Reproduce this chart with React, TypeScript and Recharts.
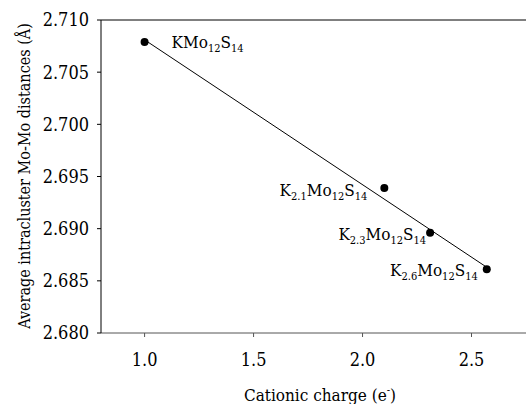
import { ComposedChart, Scatter, XAxis, YAxis, ReferenceLine } from 'recharts';

// Cationic charge (e-) and mean Mo-Mo distance (Å)
const charge = [1.0, 2.1, 2.31, 2.57];
const moMo = [2.7079, 2.6939, 2.6896, 2.6861];
// K index in K_xMo12S14 ('' means plain KMo12S14)
const kIndex = ['', '2.1', '2.3', '2.6'];

// linear fit drawn in the figure (end points)
const fitX = [1.0, 2.57];
const fitY = [2.7081, 2.6863];

const xTicks = [1.0, 1.5, 2.0, 2.5];
const yTicks = [2.68, 2.685, 2.69, 2.695, 2.7, 2.705, 2.71];

const points = charge.map((c, i) => ({ x: c, y: moMo[i], k: kIndex[i], i }));
const fit = fitX.map((x, i) => ({ x, y: fitY[i] }));

const FONT = "'DejaVu Serif Condensed', 'DejaVu Serif', serif";
const serif = { fontFamily: FONT, fontStretch: 'condensed' as const };

// where each formula sits relative to its point
const labelPos = [
  { dx: 27, dy: 6, anchor: 'start' },
  { dx: -17, dy: 8.5, anchor: 'end' },
  { dx: -4, dy: 7.5, anchor: 'end' },
  { dx: -9, dy: 7, anchor: 'end' },
];

const PointWithLabel = (props: any) => {
  const { cx, cy, payload } = props;
  const p = labelPos[payload.i];
  return (
    <g>
      <circle cx={cx} cy={cy} r={4} fill="#000" />
      <text
        x={cx + p.dx}
        y={cy + p.dy}
        textAnchor={p.anchor}
        style={serif}
        fontSize={17}
        fill="#000"
      >
        <tspan>K</tspan>
        {payload.k ? (
          <tspan fontSize={11} dy={4}>{payload.k}</tspan>
        ) : null}
        <tspan dy={payload.k ? -4 : 0}>Mo</tspan>
        <tspan fontSize={11} dy={4}>12</tspan>
        <tspan dy={-4}>S</tspan>
        <tspan fontSize={11} dy={4}>14</tspan>
      </text>
    </g>
  );
};

const XTick = (props: any) => {
  const { x, y, payload } = props;
  return (
    <text x={x} y={y} dy="0.71em" textAnchor="middle" style={serif} fontSize={18} fill="#000">
      {Number(payload.value).toFixed(1)}
    </text>
  );
};

const YTick = (props: any) => {
  const { x, y, payload } = props;
  return (
    <text x={x} y={y} dy="0.36em" textAnchor="end" style={serif} fontSize={18} fill="#000">
      {Number(payload.value).toFixed(3)}
    </text>
  );
};

export default function App() {
  return (
    <div
      style={{
        position: 'fixed',
        left: 0,
        top: 0,
        width: 526,
        height: 404,
        overflow: 'hidden',
        background: '#fff',
      }}
    >
      <ComposedChart width={526} height={404} margin={{ top: 20, right: 0, bottom: 0, left: 0 }} style={serif}>
        <XAxis
          type="number"
          dataKey="x"
          domain={[0.8, 2.75]}
          ticks={xTicks}
          height={71}
          tickSize={4}
          tickMargin={16}
          stroke="#555"
          axisLine={{ stroke: '#555' }}
          tick={<XTick />}
          allowDataOverflow
          label={{
            content: () => (
              <text x={320} y={401} textAnchor="middle" style={serif} fontSize={17} fill="#000">
                <tspan>Cationic charge (e</tspan>
                <tspan fontSize={11} dy={-7}>-</tspan>
                <tspan dy={7}>)</tspan>
              </text>
            ),
          }}
        />
        <YAxis
          type="number"
          dataKey="y"
          domain={[2.68, 2.71]}
          ticks={yTicks}
          width={101}
          tickSize={4}
          tickMargin={8}
          stroke="#000"
          tick={<YTick />}
          allowDataOverflow
          label={{
            content: () => (
              <text
                x={24}
                y={176}
                transform="rotate(-90, 24, 176)"
                textAnchor="middle"
                dominantBaseline="central"
                style={serif}
                fontSize={16}
                fill="#000"
              >
                Average intracluster Mo-Mo distances (Å)
              </text>
            ),
          }}
        />
        <ReferenceLine y={2.71} stroke="#000" strokeWidth={1} />
        <Scatter
          data={fit}
          line={{ stroke: '#000', strokeWidth: 1 }}
          shape={() => <g />}
          isAnimationActive={false}
        />
        <Scatter data={points} shape={PointWithLabel} isAnimationActive={false} />
      </ComposedChart>
    </div>
  );
}
